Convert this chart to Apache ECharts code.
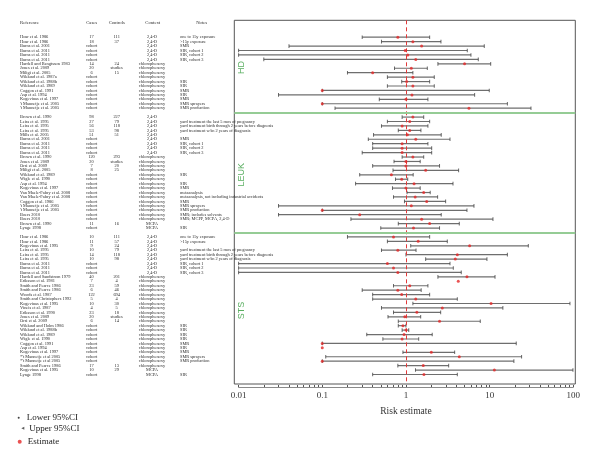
<!DOCTYPE html>
<html><head><meta charset="utf-8">
<script src="https://cdn.jsdelivr.net/npm/echarts@6/dist/echarts.min.js"></script>
<style>html,body{margin:0;padding:0;background:#fff}#c{width:600px;height:468px}</style>
</head><body><div id="c"></div>
<script>
// ---------------- data ----------------
const sectionNames = ['HD', 'LEUK', 'STS'];
const sectionSizes = [17, 26, 32];
const headers = ['Reference', 'Cases', 'Controls', 'Context', 'Notes'];
const tickLabels = ['0.01', '0.1', '1', '10', '100'];

const reference = [
  'Hoar et al. 1986','Hoar et al. 1986','Burns et al. 2001','Burns et al. 2011','Burns et al. 2011','Burns et al. 2011','Hardell and Bengtsson 1983','Jones et al. 2009','Miligi et al. 2005','Wiklund et al. 1987a','Wiklund et al. 1988b','Wiklund et al. 1989','Coggon et al. 1991','Asp et al. 1994','Kogevinas et al. 1997',"'t Mannetje et al. 2005","'t Mannetje et al. 2005",
  'Brown et al. 1990','Leiss et al. 1995','Leiss et al. 1995','Leiss et al. 1995','Mills et al. 2005','Burns et al. 2001','Burns et al. 2011','Burns et al. 2011','Burns et al. 2011','Brown et al. 1990','Jones et al. 2009','Orsi et al. 2009','Miligi et al. 2005','Wiklund et al. 1989','Wigle et al. 1990','Asp et al. 1994','Kogevinas et al. 1997','Van Maele-Fabry et al. 2008','Van Maele-Fabry et al. 2008','Coggon et al. 1986',"'t Mannetje et al. 2005","'t Mannetje et al. 2005",'Boers 2010','Boers 2010','Brown et al. 1990','Lynge 1998',
  'Hoar et al. 1986','Hoar et al. 1986','Kogevinas et al. 1995','Leiss et al. 1995','Leiss et al. 1995','Leiss et al. 1995','Burns et al. 2011','Burns et al. 2011','Burns et al. 2011','Hardell and Sandstrom 1979','Eriksson et al. 1981','Smith and Pearce 1986','Smith and Pearce 1986','Woods et al. 1987','Smith and Christophers 1992','Kogevinas et al. 1995','Vineis et al. 1987','Eriksson et al. 1990','Jones et al. 2009','Orsi et al. 2009','Wiklund and Holm 1986','Wiklund et al. 1988b','Wiklund et al. 1989','Wigle et al. 1990','Coggon et al. 1991','Asp et al. 1994','Kogevinas et al. 1997',"*'t Mannetje et al 2005","*'t Mannetje et al 2005",'Smith and Pearce 1986','Kogevinas et al. 1995','Lynge 1998'
];
const cases = [
  '17','18','cohort','cohort','cohort','cohort','14','20','6','cohort','cohort','cohort','cohort','cohort','cohort','cohort','cohort',
  '98','27','56','53','51','cohort','cohort','cohort','cohort','120','20','7','8','cohort','cohort','cohort','cohort','cohort','cohort','cohort','cohort','cohort','cohort','cohort','11','cohort',
  '10','11','9','10','14','10','cohort','cohort','cohort','40','7','23','6','122','5','10','4','23','20','6','cohort','cohort','cohort','cohort','cohort','cohort','cohort','cohort','cohort','17','10','cohort'
];
const controls = [
  '111','37','','','','','24','studies','15','','','','','','','','',
  '227','79','118','98','51','','','','','293','studies','20','25','','','','','','','','','','','','16','',
  '111','57','24','79','118','98','','','','201','4','59','46','694','4','30','5','18','studies','14','','','','','','','','','','13','29',''
];
const context = [
  '2,4-D','2,4-D','2,4-D','2,4-D','2,4-D','2,4-D','chlorophenoxy','chlorophenoxy','chlorophenoxy','chlorophenoxy','chlorophenoxy','chlorophenoxy','chlorophenoxy','chlorophenoxy','chlorophenoxy','chlorophenoxy','chlorophenoxy',
  '2,4-D','2,4-D','2,4-D','2,4-D','2,4-D','2,4-D','2,4-D','2,4-D','2,4-D','chlorophenoxy','chlorophenoxy','chlorophenoxy','chlorophenoxy','chlorophenoxy','chlorophenoxy','chlorophenoxy','chlorophenoxy','chlorophenoxy','chlorophenoxy','chlorophenoxy','chlorophenoxy','chlorophenoxy','chlorophenoxy','chlorophenoxy','MCPA','MCPA',
  '2,4-D','2,4-D','2,4-D','2,4-D','2,4-D','2,4-D','2,4-D','2,4-D','2,4-D','chlorophenoxy','chlorophenoxy','chlorophenoxy','chlorophenoxy','chlorophenoxy','chlorophenoxy','chlorophenoxy','chlorophenoxy','chlorophenoxy','chlorophenoxy','chlorophenoxy','chlorophenoxy','chlorophenoxy','chlorophenoxy','chlorophenoxy','chlorophenoxy','chlorophenoxy','chlorophenoxy','chlorophenoxy','chlorophenoxy','chlorophenoxy','MCPA','MCPA'
];
const notes = [
  'one to 15y exposure','>15y exposure','SMR','SIR, cohort 1','SIR, cohort 2','SIR, cohort 3','','','','','SIR','SIR','SMR','SIR','SMR','SMR sprayers','SMR production',
  '','yard treatment the last 5 mos of pregnancy','yard treatment birth through 2 years before diagnosis','yard treatment w/in 2 years of diagnosis','','SMR','SIR, cohort 1','SIR, cohort 2','SIR, cohort 3','','','','','SIR','','SIR','SMR','metaanalysis','metaanalysis, not including industrial accidents','SMR','SMR sprayers','SMR production','SMR; includes solvents','SMR; MCPP, MCPA, 2,4-D','','SIR',
  'one to 15y exposure','>15y exposure','','yard treatment the last 5 mos of pregnancy','yard treatment birth through 2 years before diagnosis','yard treatment w/in 2 years of diagnosis','SIR, cohort 1','SIR, cohort 2','SIR, cohort 3','','','','','','','','','','','','SIR','SIR','SIR','SIR','SMR','SIR','SMR','SMR sprayers','SMR production','','','SIR'
];
const lowerCI = [
  0.30,0.51,0.040,0.01,0.01,0.020,2.41,0.73,0.20,0.60,0.89,0.60,0.10,0.030,0.48,0.10,0.142,
  0.90,0.60,0.51,0.81,0.41,0.355,0.40,0.40,0.30,0.90,0.72,0.40,0.70,0.28,0.75,0.25,0.69,1.03,0.71,0.96,0.030,0.10,0.030,0.22,0.81,0.50,
  0.20,0.60,1.14,0.51,1.00,1.72,0.01,0.01,0.01,2.41,null,0.71,0.30,0.40,0.40,1.21,0.51,0.71,0.61,0.81,0.81,0.90,0.34,0.53,0.10,null,0.92,0.11,0.10,0.80,1.30,0.40
];
const estimate = [
  0.80,1.21,1.54,0.98,1.05,1.31,5.02,1.16,0.40,1.21,1.02,1.21,0.10,1.18,1.00,0.10,5.66,
  1.21,1.11,0.90,1.11,1.04,1.31,0.90,0.90,0.90,1.21,1.00,1.00,1.72,0.67,0.89,1.25,1.00,1.63,1.29,1.77,1.16,0.10,0.28,1.54,1.92,1.23,
  0.71,1.40,5.77,0.80,4.11,3.89,0.60,0.71,0.80,5.36,4.22,1.11,0.80,0.89,1.31,10.4,2.72,1.35,0.97,2.52,0.92,1.00,0.95,0.90,0.10,0.10,2.01,4.34,0.10,1.61,11.4,1.64
];
const upperCI = [
  1.92,2.62,8.63,5.41,5.98,7.32,10.3,1.80,1.21,2.18,1.92,2.18,9.9,6.62,1.83,16.3,31.2,
  1.63,1.92,1.83,1.51,2.64,3.36,1.83,2.03,2.03,1.63,1.48,2.52,4.26,1.22,1.05,3.65,1.48,1.95,2.39,2.98,6.50,5.36,2.64,10.96,4.34,2.52,
  1.92,3.12,29.0,1.32,16.3,9.29,3.36,3.68,4.58,11.6,null,1.83,1.52,1.92,4.11,91.2,14.4,2.60,1.50,7.73,1.00,1.08,2.06,1.42,20.8,null,3.82,24.1,19.5,3.24,99,4.11
];

// ---------------- layout ----------------
const BOX = {left: 234.3, right: 575.3, top: 20.3, bottom: 384};
const AX = {x001: 238.6, x100: 573.3, y: 387};
const ROW0 = 37.2, ROWH = 4.438, HEADER_Y = 23;
const decade = (AX.x100 - AX.x001) / 4;
const xMin = Math.pow(10, -2 - (AX.x001 - BOX.left) / decade);
const xMax = Math.pow(10, 2 + (BOX.right - AX.x100) / decade);
const yMin = (BOX.top - ROW0) / ROWH;
const yMax = (BOX.bottom - ROW0) / ROWH;
const headerRow = (HEADER_Y - ROW0) / ROWH;
const labelX = Math.pow(10, -2 + (242 - AX.x001) / decade);
const labelShift = [-1.2, 0.5, 1.1];

const rowOf = [], sepRows = [], sectionCenters = [];
(function () {
  let r = 0;
  sectionSizes.forEach(function (n, s) {
    const start = r;
    for (let k = 0; k < n; k++) rowOf.push(r++);
    sectionCenters.push(start + (n - 1) / 2);
    if (s < sectionSizes.length - 1) { sepRows.push(r); r++; }
  });
})();

const minorTicks = [];
for (let e = -2; e < 2; e++) for (let m = 1; m <= 9; m++) minorTicks.push(Number((m * Math.pow(10, e)).toPrecision(3)));
minorTicks.push(100);

const ciData = [], loData = [], upData = [], estData = [], tableData = [[headerRow, -1]];
reference.forEach(function (_, i) {
  const r = rowOf[i];
  if (lowerCI[i] != null && upperCI[i] != null) {
    ciData.push([lowerCI[i], upperCI[i], r]);
    loData.push([lowerCI[i], r]);
    upData.push([upperCI[i], r]);
  }
  if (estimate[i] != null) estData.push([estimate[i], r]);
  tableData.push([r, i]);
});

const SERIF = '"Liberation Serif", "Times New Roman", serif';
const bodyCols = [
  {x: 20, align: 'left', arr: reference},
  {x: 91.5, align: 'center', arr: cases},
  {x: 116.7, align: 'center', arr: controls},
  {x: 152, align: 'center', arr: context},
  {x: 180, align: 'left', arr: notes}
];
const headerCols = [
  {x: 20, align: 'left'}, {x: 91.7, align: 'center'}, {x: 116.7, align: 'center'},
  {x: 152.7, align: 'center'}, {x: 201.7, align: 'center'}
];

const chart = echarts.init(document.getElementById('c'), null, {renderer: 'canvas'});
const hiddenAxis = {show: false, axisLine: {show: false}, axisTick: {show: false}, axisLabel: {show: false}, splitLine: {show: false}};

chart.setOption({
  animation: false,
  backgroundColor: '#fff',
  grid: [
    {left: BOX.left, top: BOX.top, width: BOX.right - BOX.left, height: BOX.bottom - BOX.top,
     show: true, borderColor: '#555', borderWidth: 1, backgroundColor: 'transparent'},
    {left: AX.x001, top: AX.y - 10, width: AX.x100 - AX.x001, height: 10},
    {left: 0, top: BOX.top, width: 600, height: BOX.bottom - BOX.top}
  ],
  xAxis: [
    Object.assign({type: 'log', logBase: 10, min: xMin, max: xMax, gridIndex: 0}, hiddenAxis),
    {type: 'log', logBase: 10, gridIndex: 1, min: Number(tickLabels[0]), max: Number(tickLabels[tickLabels.length - 1]),
     axisLine: {show: true, lineStyle: {color: '#8a8a8a', width: 1}},
     axisTick: {show: true, inside: true, length: 2, customValues: minorTicks, lineStyle: {color: '#555', width: 1}},
     axisLabel: {show: true, color: '#333', fontFamily: SERIF, fontSize: 9, margin: 4,
       customValues: tickLabels.map(Number), formatter: function (v) { return tickLabels[tickLabels.map(Number).indexOf(v)] || String(v); }},
     splitLine: {show: false},
     name: 'Risk estimate', nameLocation: 'middle', nameGap: 19,
     nameTextStyle: {fontFamily: SERIF, fontSize: 9.5, color: '#333'}},
    Object.assign({type: 'value', min: 0, max: 600, gridIndex: 2}, hiddenAxis)
  ],
  yAxis: [
    Object.assign({type: 'value', inverse: true, min: yMin, max: yMax, gridIndex: 0}, hiddenAxis),
    Object.assign({type: 'value', min: 0, max: 1, gridIndex: 1}, hiddenAxis),
    Object.assign({type: 'value', inverse: true, min: yMin, max: yMax, gridIndex: 2}, hiddenAxis)
  ],
  legend: [
    {data: [{name: 'Lower 95%CI', icon: 'circle', itemStyle: {color: '#111'}}], left: 17.7, top: 413.2, padding: 0,
     itemWidth: 6, itemHeight: 2, selectedMode: false, textStyle: {fontFamily: SERIF, fontSize: 9, color: '#222'}},
    {data: [{name: 'Upper 95%CI', icon: 'path://M10,0L0,5L10,10Z', itemStyle: {color: '#333'}}], left: 21.3, top: 423.8, padding: 0,
     itemWidth: 3, itemHeight: 3, selectedMode: false, textStyle: {fontFamily: SERIF, fontSize: 9, color: '#222'}},
    {data: [{name: 'Estimate', icon: 'circle', itemStyle: {color: '#e52727'}}], left: 17.7, top: 437.2, padding: 0,
     itemWidth: 6, itemHeight: 4, selectedMode: false, textStyle: {fontFamily: SERIF, fontSize: 9, color: '#222'}}
  ],
  series: [
    {
      name: 'CI', type: 'custom', xAxisIndex: 0, yAxisIndex: 0, silent: true, z: 2,
      data: ciData, encode: {x: [0, 1], y: 2},
      renderItem: function (params, api) {
        const a = api.coord([api.value(0), api.value(2)]);
        const b = api.coord([api.value(1), api.value(2)]);
        return {type: 'line', shape: {x1: a[0], y1: a[1], x2: b[0], y2: b[1]},
                style: {stroke: '#6e6e6e', lineWidth: 1.2}};
      }
    },
    {name: 'Lower 95%CI', type: 'scatter', xAxisIndex: 0, yAxisIndex: 0, silent: true, z: 3,
     symbol: 'rect', symbolSize: [1, 3.6], itemStyle: {color: '#444'}, data: loData},
    {name: 'Upper 95%CI', type: 'scatter', xAxisIndex: 0, yAxisIndex: 0, silent: true, z: 3,
     symbol: 'rect', symbolSize: [1, 3.6], itemStyle: {color: '#444'}, data: upData},
    {name: 'Estimate', type: 'scatter', xAxisIndex: 0, yAxisIndex: 0, silent: true, z: 5,
     symbol: 'circle', symbolSize: 3, itemStyle: {color: '#e52727'}, data: estData,
     markLine: {silent: true, symbol: ['none', 'none'], label: {show: false}, animation: false,
       data: [{xAxis: 1, lineStyle: {color: '#e23a3a', type: [4, 3], width: 1}}].concat(
         sepRows.map(function (r) { return {yAxis: r, lineStyle: {color: '#95cc95', width: 2, type: 'solid'}}; }))}},
    {name: 'sections', type: 'scatter', xAxisIndex: 0, yAxisIndex: 0, silent: true, z: 6,
     symbolSize: 1, itemStyle: {color: 'rgba(0,0,0,0)'},
     data: sectionNames.map(function (n, s) { return [labelX, sectionCenters[s] + labelShift[s], n]; }),
     label: {show: true, position: 'inside', rotate: 90, formatter: function (p) { return p.value[2]; },
       color: '#2f9a38', fontSize: 9, fontFamily: '"Liberation Sans", Arial, sans-serif'}},
    {
      name: 'table', type: 'custom', xAxisIndex: 2, yAxisIndex: 2, silent: true, z: 4,
      data: tableData, encode: {y: 0},
      renderItem: function (params, api) {
        const row = api.value(0), k = api.value(1);
        const children = [];
        const cols = k < 0 ? headerCols : bodyCols;
        cols.forEach(function (c, j) {
          const txt = k < 0 ? headers[j] : c.arr[k];
          if (!txt) return;
          const p = api.coord([c.x, row]);
          children.push({type: 'text', x: p[0], y: p[1],
            style: {text: txt, fill: '#2a2a2a', font: (k < 0 ? '4.7px ' : '4.4px ') + SERIF,
                    textAlign: c.align, textVerticalAlign: 'middle', align: c.align, verticalAlign: 'middle'}});
        });
        return {type: 'group', children: children};
      }
    }
  ]
});
</script>
</body></html>
